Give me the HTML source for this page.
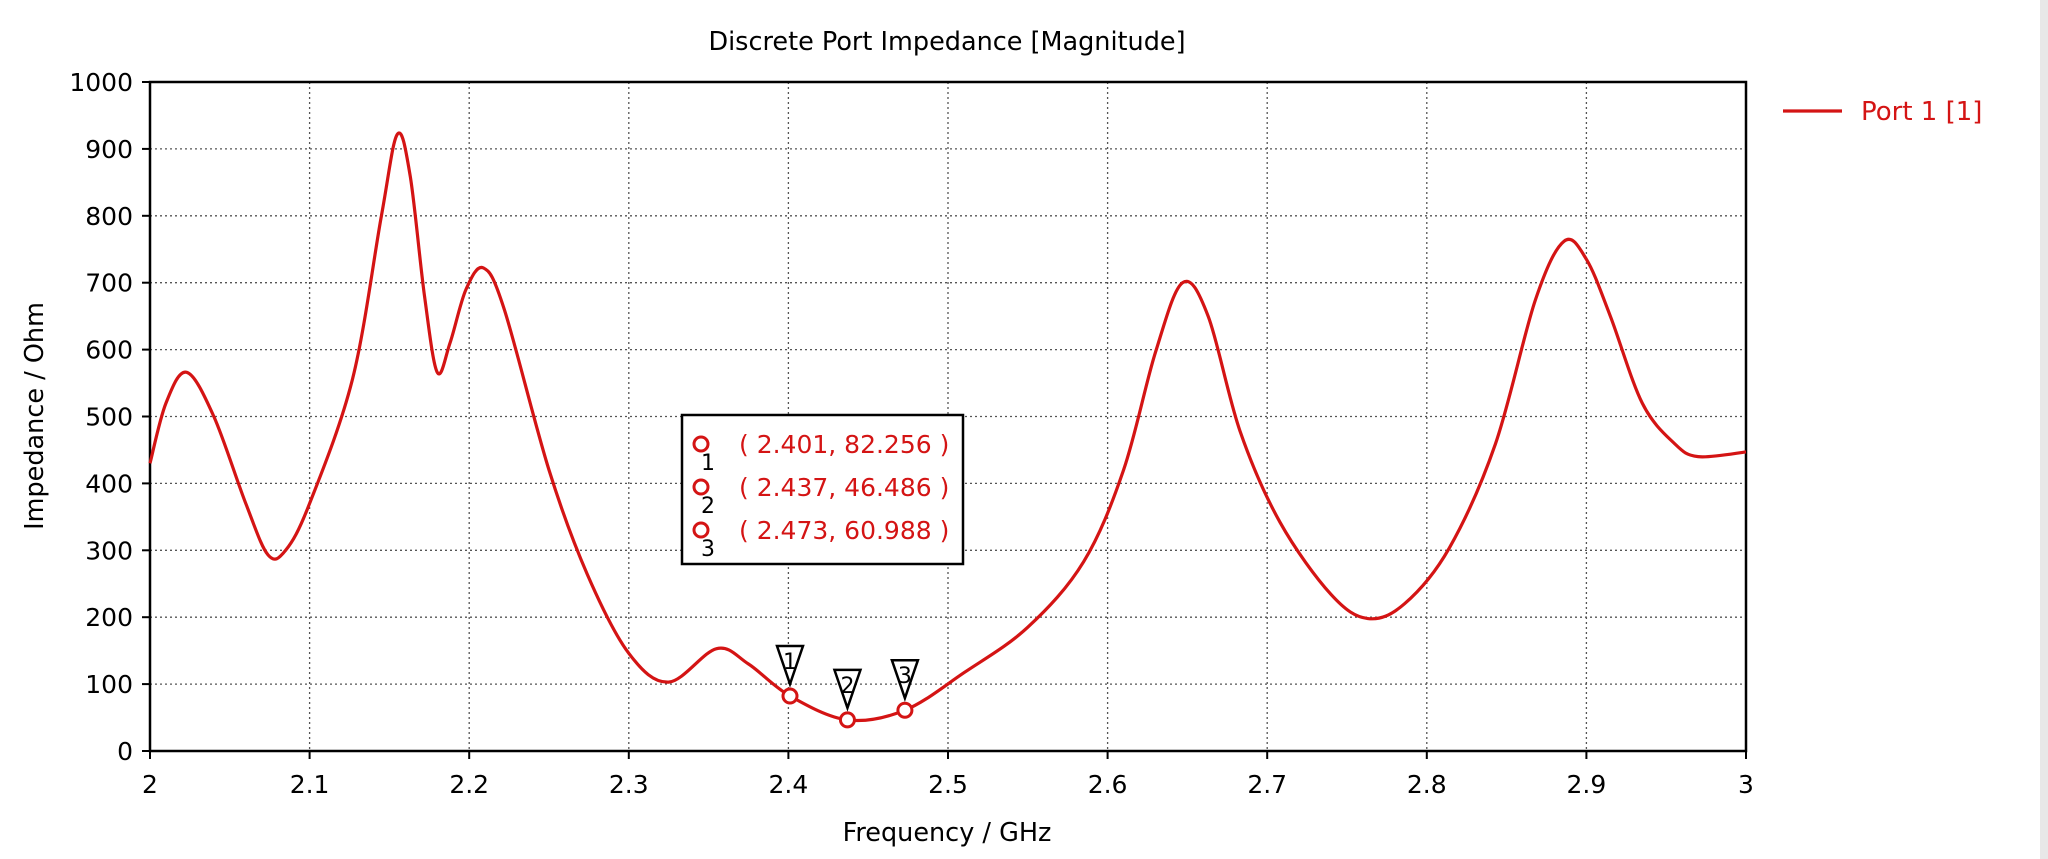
<!DOCTYPE html>
<html><head><meta charset="utf-8"><style>
html,body{margin:0;padding:0;background:#fff;}
svg{display:block;font-family:"DejaVu Sans","Liberation Sans",sans-serif;}
</style></head><body>
<svg id="chart" width="2048" height="859" viewBox="0 0 2048 859"></svg>
<script>
const freqs=[2.0,2.01,2.023,2.04,2.06,2.074,2.085,2.1,2.127,2.145,2.155,2.163,2.172,2.18,2.188,2.198,2.209,2.222,2.25,2.274,2.3,2.325,2.355,2.375,2.401,2.437,2.473,2.51,2.55,2.585,2.61,2.63,2.647,2.663,2.683,2.708,2.74,2.763,2.786,2.814,2.843,2.868,2.886,2.9,2.915,2.935,2.955,2.97,3.0];
const impedance=[430,520,566,500,370,293,300,370,557,800,922,860,680,566,610,690,722,660,420,264,146,103,153,130,82.256,46.486,60.988,117,185,283,420,596,700,650,478,342,234,198,220,303,459,674,762,735,650,520,460,440,447];
const xTicks=[2,2.1,2.2,2.3,2.4,2.5,2.6,2.7,2.8,2.9,3];
const xTickLabels=["2","2.1","2.2","2.3","2.4","2.5","2.6","2.7","2.8","2.9","3"];
const yTicks=[0,100,200,300,400,500,600,700,800,900,1000];
const markerFreqs=[2.401,2.437,2.473];
const markerVals=[82.256,46.486,60.988];
const markerLabels=["( 2.401, 82.256 )","( 2.437, 46.486 )","( 2.473, 60.988 )"];

const L=150,R=1746,T=82,B=751;
const xs=f=>L+(f-2)/(3-2)*(R-L);
const ys=v=>B-v/1000*(B-T);
const svg=document.getElementById('chart');
const NS='http://www.w3.org/2000/svg';
function mk(tag,attrs,parent){const e=document.createElementNS(NS,tag);for(const k in attrs)e.setAttribute(k,attrs[k]);(parent||svg).appendChild(e);return e;}

let t=mk('text',{x:947,y:50,'font-size':25.5,'text-anchor':'middle',fill:'#000'});


t.textContent='Discrete Port Impedance [Magnitude]';

xTicks.forEach((f,i)=>{
  if(i>0&&i<xTicks.length-1){const g=mk('line',{x1:xs(f),x2:xs(f),y1:T,y2:B,stroke:'#555','stroke-width':1.3,'stroke-dasharray':'2 3'});
  
  }
  const tk=mk('line',{x1:xs(f),x2:xs(f),y1:B,y2:B+8,stroke:'#000','stroke-width':2});
  
  
  const lb=mk('text',{x:xs(f),y:B+42,'font-size':25,'text-anchor':'middle',fill:'#000'});
  
  
  lb.textContent=xTickLabels[i];
});
yTicks.forEach((v,i)=>{
  if(i>0&&i<yTicks.length-1){const g=mk('line',{x1:L,x2:R,y1:ys(v),y2:ys(v),stroke:'#555','stroke-width':1.3,'stroke-dasharray':'2 3'});
  
  }
  const tk=mk('line',{x1:L-8,x2:L,y1:ys(v),y2:ys(v),stroke:'#000','stroke-width':2});
  
  
  const lb=mk('text',{x:L-17,y:ys(v)+9,'font-size':25,'text-anchor':'end',fill:'#000'});
  
  
  lb.textContent=String(v);
});
const fr=mk('rect',{x:L,y:T,width:R-L,height:B-T,fill:'none',stroke:'#000','stroke-width':2.5});



t=mk('text',{x:947,y:841,'font-size':25.5,'text-anchor':'middle',fill:'#000'});


t.textContent='Frequency / GHz';
t=mk('text',{x:0,y:0,'font-size':25.5,'text-anchor':'middle',fill:'#000',transform:'translate(43,416) rotate(-90)'});


t.textContent='Impedance / Ohm';

const P=freqs.map((f,i)=>[xs(f),ys(impedance[i])]);
let d=`M${P[0][0]},${P[0][1]}`;
for(let i=0;i<P.length-1;i++){
  const p0=P[i-1]||P[i],p1=P[i],p2=P[i+1],p3=P[i+2]||P[i+1];
  const c1=[p1[0]+(p2[0]-p0[0])/6,p1[1]+(p2[1]-p0[1])/6];
  const c2=[p2[0]-(p3[0]-p1[0])/6,p2[1]-(p3[1]-p1[1])/6];
  d+=` C${c1[0]},${c1[1]} ${c2[0]},${c2[1]} ${p2[0]},${p2[1]}`;
}
const line=mk('path',{d:d,fill:'none',stroke:'#d41414','stroke-width':3.2,'stroke-linejoin':'round'});



markerFreqs.forEach((f,i)=>{
  const cx=xs(f),cy=ys(markerVals[i]);
  const c=mk('circle',{cx:cx,cy:cy,r:7,fill:'#fff',stroke:'#d41414','stroke-width':3});
  
  
  const tri=mk('path',{d:`M${cx-13},${cy-50} L${cx+13},${cy-50} L${cx},${cy-12} Z`,fill:'#fff',stroke:'#000','stroke-width':2.5});
  
  
  const n=mk('text',{x:cx,y:cy-27,'font-size':22,'text-anchor':'middle',fill:'#000'});
  
  
  n.textContent=String(i+1);
});

const bx=mk('rect',{x:682,y:415,width:281,height:149,fill:'#fff',stroke:'#000','stroke-width':2.5});


markerLabels.forEach((s,i)=>{
  const y=444+i*43;
  const c=mk('circle',{cx:701,cy:y,r:7,fill:'#fff',stroke:'#d41414','stroke-width':3});
  
  
  const n=mk('text',{x:708,y:y+26,'font-size':22,'text-anchor':'middle',fill:'#000'});
  
  
  n.textContent=String(i+1);
  const tx=mk('text',{x:739,y:y+9,'font-size':25,fill:'#d41414'});
  
  
  tx.textContent=s;
});

const lg=mk('line',{x1:1783,x2:1842,y1:111,y2:111,stroke:'#d41414','stroke-width':3.2});


t=mk('text',{x:1861,y:120,'font-size':26,fill:'#d41414'});


t.textContent='Port 1 [1]';
const st=mk('rect',{x:2040,y:0,width:8,height:859,fill:'#e8e8e8'});


</script>
</body></html>
